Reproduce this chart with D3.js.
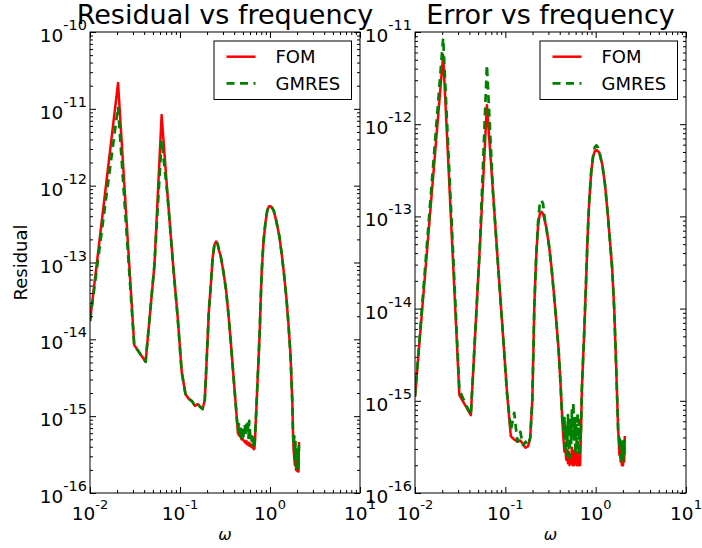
<!DOCTYPE html>
<html><head><meta charset="utf-8">
<script src="https://cdn.jsdelivr.net/npm/d3@7"></script>
<style>
body{margin:0;background:#fff}
svg{display:block}
text{font-family:"DejaVu Sans",sans-serif;fill:#000}
</style>
</head><body>
<svg id="chart" width="702" height="548"></svg>
<script>
// ---------- data ----------
const omega = [
 0.01, 0.0205, 0.031, 0.0415, 0.052, 0.0625, 0.073, 0.0835, 0.094, 0.1045,
 0.115, 0.1255, 0.136, 0.1465, 0.157, 0.1675, 0.178, 0.1885, 0.199, 0.2095,
 0.22, 0.2305, 0.241, 0.2515, 0.262, 0.2725, 0.283, 0.304, 0.325, 0.346,
 0.367, 0.388, 0.409, 0.43,
 0.4405, 0.451, 0.4615, 0.472, 0.4825, 0.493, 0.5035, 0.514, 0.5245, 0.535,
 0.5455, 0.556, 0.5665, 0.577, 0.5875, 0.598, 0.6085, 0.619, 0.6295, 0.64,
 0.6505, 0.661, 0.6715, 0.682, 0.6925, 0.703,
 0.7135, 0.745, 0.766, 0.787, 0.808, 0.829, 0.85, 0.892, 0.934, 0.976,
 1.018, 1.06, 1.102, 1.186, 1.27, 1.354, 1.438, 1.522, 1.606, 1.69, 1.774,
 1.80, 1.83, 1.86, 1.89, 1.92, 1.95, 1.98, 2.01, 2.04, 2.07, 2.1
];

const residualFOM = [
 1.73e-14, 2.17e-11, 8.4e-15, 5.1e-15, 9.3e-14, 8.3e-12, 7.1e-13, 9.8e-14, 2.0e-14, 3.75e-15,
 1.94e-15, 1.67e-15, 1.57e-15, 1.36e-15, 1.44e-15, 1.32e-15, 1.24e-15, 1.62e-15, 6.25e-15, 2.41e-14,
 5.1e-14, 1.15e-13, 1.69e-13, 1.88e-13, 1.74e-13, 1.41e-13, 1.22e-13, 7.5e-14, 4.4e-14, 2.07e-14,
 9.2e-15, 3.98e-15, 1.83e-15, 8.7e-16,
 6.0e-16, 5.7e-16, 5.5e-16, 5.4e-16, 5.0e-16, 5.2e-16, 4.9e-16, 4.75e-16, 4.6e-16, 4.5e-16,
 4.75e-16, 4.3e-16, 4.5e-16, 4.2e-16, 4.5e-16, 4.1e-16, 4.3e-16, 4.0e-16, 4.2e-16, 3.9e-16,
 4.1e-16, 3.7e-16, 3.8e-16, 4.9e-16, 7.9e-16, 1.13e-15,
 1.72e-15, 5.4e-15, 1.14e-14, 3.1e-14, 7.3e-14, 1.25e-13, 1.96e-13, 3.4e-13, 4.8e-13, 5.4e-13,
 5.4e-13, 5.1e-13, 4.7e-13, 3.3e-13, 2.2e-13, 1.25e-13, 6.7e-14, 3.45e-14, 1.54e-14, 6.25e-15, 1.4e-15,
 6.2e-16, 3.6e-16, 2.9e-16, 2.3e-16, 3.4e-16, 2.0e-16, 2.9e-16, 1.94e-16, 2.5e-16, 1.9e-16, 4.6e-16
];

const residualGMRES = [
 1.73e-14, 1.06e-11, 8.4e-15, 5.1e-15, 9.3e-14, 3.9e-12, 7.1e-13, 9.8e-14, 2.0e-14, 3.75e-15,
 1.94e-15, 1.67e-15, 1.57e-15, 1.36e-15, 1.44e-15, 1.32e-15, 1.24e-15, 1.62e-15, 6.25e-15, 2.41e-14,
 5.1e-14, 1.15e-13, 1.69e-13, 1.88e-13, 1.74e-13, 1.41e-13, 1.22e-13, 7.5e-14, 4.4e-14, 2.07e-14,
 9.2e-15, 3.98e-15, 1.83e-15, 8.7e-16,
 6.6e-16, 7.9e-16, 6.0e-16, 7.2e-16, 5.2e-16, 6.6e-16, 4.9e-16, 7.0e-16, 7.9e-16, 5.5e-16,
 8.4e-16, 5.9e-16, 8.9e-16, 5.2e-16, 8.7e-16, 6.6e-16, 4.75e-16, 5.5e-16, 4.3e-16, 5.4e-16,
 4.1e-16, 4.9e-16, 4.1e-16, 5.5e-16, 7.9e-16, 1.13e-15,
 1.72e-15, 5.4e-15, 1.14e-14, 3.1e-14, 7.3e-14, 1.25e-13, 1.96e-13, 3.4e-13, 4.8e-13, 5.4e-13,
 5.4e-13, 5.1e-13, 4.7e-13, 3.3e-13, 2.2e-13, 1.25e-13, 6.7e-14, 3.45e-14, 1.54e-14, 6.25e-15, 1.4e-15,
 6.2e-16, 4.2e-16, 5.5e-16, 2.7e-16, 4.6e-16, 2.25e-16, 4.1e-16, 2.1e-16, 3.9e-16, 2.0e-16, 4.2e-16
];

const errorFOM = [
 1.11e-15, 5.6e-12, 1.15e-15, 7.0e-16, 4.3e-14, 1.61e-12, 1.84e-13, 2.75e-14, 5.3e-15, 1.2e-15,
 4.15e-16, 3.8e-16, 3.6e-16, 3.7e-16, 3.4e-16, 3.1e-16, 3.2e-16, 3.95e-16, 1.02e-15, 1.09e-14,
 3.8e-14, 8.1e-14, 1.06e-13, 1.12e-13, 1.06e-13, 9.1e-14, 7.7e-14, 4.9e-14, 2.75e-14, 1.40e-14,
 7.2e-15, 3.7e-15, 1.48e-15, 5.5e-16,
 3.8e-16, 2.8e-16, 3.3e-16, 2.3e-16, 2.9e-16, 2.1e-16, 2.8e-16, 2.0e-16, 2.6e-16, 2.1e-16,
 3.1e-16, 2.0e-16, 2.8e-16, 2.0e-16, 2.9e-16, 2.1e-16, 2.6e-16, 2.0e-16, 2.8e-16, 2.1e-16,
 2.0e-16, 2.4e-16, 2.0e-16, 3.3e-16, 6.2e-16, 1.31e-15,
 1.9e-15, 5.2e-15, 1.1e-14, 2.3e-14, 4.9e-14, 9.1e-14, 1.5e-13, 3.0e-13, 4.4e-13, 5.1e-13,
 5.25e-13, 5.1e-13, 4.9e-13, 3.6e-13, 2.2e-13, 1.12e-13, 5.5e-14, 2.75e-14, 9.7e-15, 2.2e-15, 4.8e-16,
 3.8e-16, 2.6e-16, 3.3e-16, 2.2e-16, 2.9e-16, 2.0e-16, 2.8e-16, 2.0e-16, 3.1e-16, 2.2e-16, 4.15e-16
];

const errorGMRES = [
 1.11e-15, 8.6e-12, 1.3e-15, 7.0e-16, 4.3e-14, 4.4e-12, 1.84e-13, 2.75e-14, 5.3e-15, 1.2e-15,
 4.8e-16, 7.4e-16, 3.6e-16, 4.6e-16, 3.3e-16, 3.6e-16, 3.3e-16, 3.95e-16, 1.02e-15, 1.09e-14,
 3.8e-14, 8.7e-14, 1.4e-13, 1.5e-13, 1.36e-13, 9.5e-14, 7.7e-14, 4.9e-14, 2.75e-14, 1.40e-14,
 7.2e-15, 3.7e-15, 1.48e-15, 5.5e-16,
 4.8e-16, 6.5e-16, 3.1e-16, 5.5e-16, 2.6e-16, 7.0e-16, 3.8e-16, 2.4e-16, 6.2e-16, 3.3e-16,
 7.9e-16, 4.3e-16, 9.7e-16, 3.8e-16, 6.5e-16, 2.6e-16, 5.5e-16, 2.9e-16, 7.6e-16, 3.3e-16,
 6.2e-16, 2.5e-16, 4.8e-16, 3.8e-16, 6.5e-16, 1.31e-15,
 1.9e-15, 5.2e-15, 1.1e-14, 2.3e-14, 4.9e-14, 9.1e-14, 1.5e-13, 3.0e-13, 4.4e-13, 5.6e-13,
 5.9e-13, 5.6e-13, 4.9e-13, 3.6e-13, 2.2e-13, 1.12e-13, 5.5e-14, 2.75e-14, 9.7e-15, 2.2e-15, 4.8e-16,
 4.6e-16, 3.1e-16, 4.15e-16, 2.4e-16, 3.8e-16, 2.3e-16, 3.6e-16, 2.2e-16, 3.95e-16, 2.6e-16, 3.8e-16
];

const xTickValues = [1e-2, 1e-1, 1e0, 1e1];
const xTickExponents = ["-2", "-1", "0", "1"];
const residualTickValues = [1e-16, 1e-15, 1e-14, 1e-13, 1e-12, 1e-11, 1e-10];
const residualTickExponents = ["-16", "-15", "-14", "-13", "-12", "-11", "-10"];
const errorTickValues = [1e-16, 1e-15, 1e-14, 1e-13, 1e-12, 1e-11];
const errorTickExponents = ["-16", "-15", "-14", "-13", "-12", "-11"];
const panelTitles = ["Residual vs frequency", "Error vs frequency"];
const seriesNames = ["FOM", "GMRES"];
const seriesColors = ["#ff0000", "#008000"];

// ---------- drawing ----------
const svg = d3.select("#chart");
svg.append("rect").attr("width", 702).attr("height", 548).attr("fill", "#fff");

function minorValues(lo, hi) {
  const out = [];
  const e0 = Math.round(Math.log10(lo)), e1 = Math.round(Math.log10(hi));
  for (let e = e0; e < e1; e++) for (let m = 2; m <= 9; m++) out.push(m * Math.pow(10, e));
  return out;
}

function drawPanel(cfg) {
  const x = d3.scaleLog().domain([xTickValues[0], xTickValues[xTickValues.length - 1]]).range([cfg.left, cfg.right]);
  const y = d3.scaleLog().domain([cfg.yTicks[0], cfg.yTicks[cfg.yTicks.length - 1]]).range([cfg.bottom, cfg.top]);
  const g = svg.append("g");

  const clipId = "clip" + cfg.id;
  g.append("clipPath").attr("id", clipId).append("rect")
    .attr("x", cfg.left).attr("y", cfg.top)
    .attr("width", cfg.right - cfg.left).attr("height", cfg.bottom - cfg.top);

  const line = d3.line().x((d, i) => x(omega[i])).y(d => y(d));
  const plot = g.append("g").attr("clip-path", `url(#${clipId})`);
  plot.append("path").datum(cfg.fom).attr("d", line)
    .attr("fill", "none").attr("stroke", seriesColors[0]).attr("stroke-width", 2.5)
    .attr("stroke-linejoin", "round");
  plot.append("path").datum(cfg.gmres).attr("d", line)
    .attr("fill", "none").attr("stroke", seriesColors[1]).attr("stroke-width", 2.7)
    .attr("stroke-dasharray", "8,5.5").attr("stroke-linejoin", "round");

  // ticks on all four sides, inward
  const xMinor = minorValues(xTickValues[0], xTickValues[xTickValues.length - 1]);
  const yMinor = minorValues(cfg.yTicks[0], cfg.yTicks[cfg.yTicks.length - 1]);
  const specs = [
    [d3.axisBottom(x), `translate(0,${cfg.bottom})`, xTickValues, xMinor],
    [d3.axisTop(x), `translate(0,${cfg.top})`, xTickValues, xMinor],
    [d3.axisLeft(y), `translate(${cfg.left},0)`, cfg.yTicks, yMinor],
    [d3.axisRight(y), `translate(${cfg.right},0)`, cfg.yTicks, yMinor]
  ];
  specs.forEach(([ax, tr, maj, min]) => {
    const a1 = g.append("g").attr("transform", tr)
      .call(ax.tickValues(maj).tickSize(-6).tickFormat(() => ""));
    a1.select(".domain").remove();
    const a2 = g.append("g").attr("transform", tr)
      .call(ax.tickValues(min).tickSize(-3).tickFormat(() => ""));
    a2.select(".domain").remove();
  });
  g.selectAll(".tick line").attr("stroke", "#000").attr("stroke-width", 1);

  g.append("rect").attr("x", cfg.left).attr("y", cfg.top)
    .attr("width", cfg.right - cfg.left).attr("height", cfg.bottom - cfg.top)
    .attr("fill", "none").attr("stroke", "#000").attr("stroke-width", 1);

  // x tick labels
  xTickValues.forEach((v, i) => {
    const t = g.append("text").attr("x", x(v)).attr("y", cfg.bottom + 27)
      .attr("text-anchor", "middle").attr("font-size", 18.5);
    t.append("tspan").text("10");
    t.append("tspan").attr("dy", -11).attr("font-size", 13).text(xTickExponents[i]);
  });
  // y tick labels
  cfg.yTicks.forEach((v, i) => {
    const t = g.append("text").attr("x", cfg.left - 3).attr("y", y(v) + 10)
      .attr("text-anchor", "end").attr("font-size", 18.5);
    t.append("tspan").text("10");
    t.append("tspan").attr("dy", -12).attr("font-size", 14.5).text(cfg.yExp[i]);
  });

  // title
  g.append("text").attr("x", (cfg.left + cfg.right) / 2).attr("y", 24)
    .attr("text-anchor", "middle").attr("font-size", 27).text(cfg.title);

  // x label
  g.append("text").attr("x", (cfg.left + cfg.right) / 2).attr("y", 540)
    .attr("text-anchor", "middle").attr("font-size", 16).attr("font-style", "italic").text("ω");

  // legend
  const lg = g.append("g").attr("transform", `translate(${cfg.right - 146},41)`);
  lg.append("rect").attr("x", 0).attr("y", 0).attr("width", 137.5).attr("height", 58.5)
    .attr("fill", "#fff").attr("stroke", "#000").attr("stroke-width", 1);
  seriesNames.forEach((name, i) => {
    const yy = 15.7 + i * 26.6;
    lg.append("line").attr("x1", 12.5).attr("x2", 41.5).attr("y1", yy).attr("y2", yy)
      .attr("stroke", seriesColors[i]).attr("stroke-width", i ? 2.7 : 2.5)
      .attr("stroke-dasharray", i ? "8,5.5" : null);
    lg.append("text").attr("x", 61.5).attr("y", yy + 6.5).attr("font-size", 18).text(name);
  });
}

drawPanel({id: 0, left: 90, right: 360, top: 32, bottom: 493,
  yTicks: residualTickValues, yExp: residualTickExponents,
  fom: residualFOM, gmres: residualGMRES, title: panelTitles[0]});
drawPanel({id: 1, left: 415, right: 686, top: 32, bottom: 493,
  yTicks: errorTickValues, yExp: errorTickExponents,
  fom: errorFOM, gmres: errorGMRES, title: panelTitles[1]});

// y label of the left panel
svg.append("text").attr("transform", "translate(27,262.5) rotate(-90)")
  .attr("text-anchor", "middle").attr("font-size", 18).text("Residual");
</script>
</body></html>
